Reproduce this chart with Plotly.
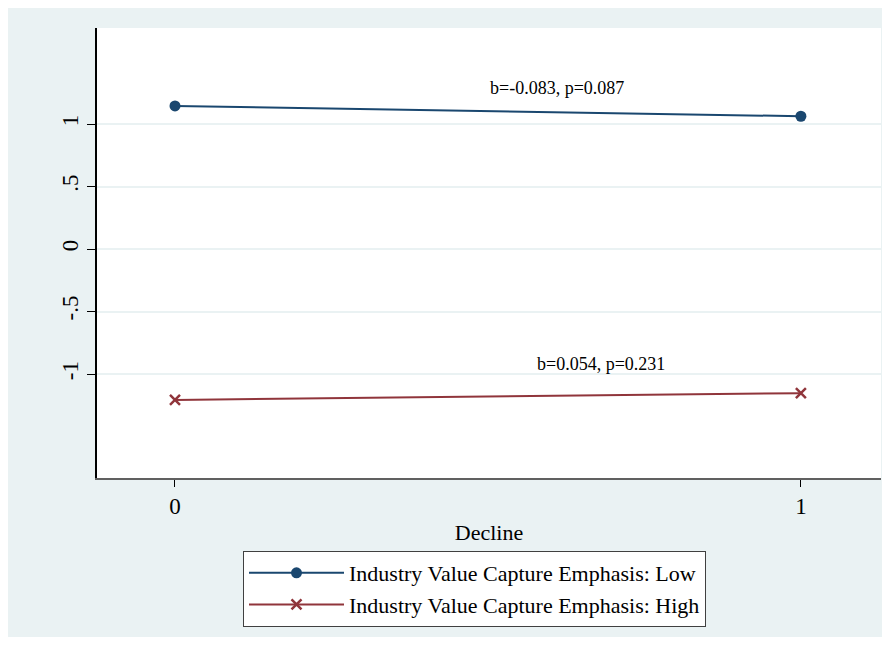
import plotly.graph_objects as go

x_vals = [0, 1]
low_vals = [1.145, 1.062]
high_vals = [-1.207, -1.153]
series_names = ["Industry Value Capture Emphasis: Low", "Industry Value Capture Emphasis: High"]
annot_texts = ["b=-0.083, p=0.087", "b=0.054, p=0.231"]
annot_x = [0.61, 0.68]
annot_y = [1.29, -0.92]
y_ticks = [-1, -0.5, 0, 0.5, 1]
y_ticklabels = ["-1", "-.5", "0", ".5", "1"]
x_ticks = [0, 1]

BG = "#EAF2F3"
NAVY = "#1A476F"
MAROON = "#90353B"
FONT = "Liberation Serif"

# page is offset by the 8px body margin
OFF = 8
W, H = 882, 643
L, T = 97 - OFF, 28 - OFF
RIGHT, BOTTOM = 881 - OFF, 478 - OFF
R, B = W - RIGHT, H - BOTTOM
pw, ph = RIGHT - L, BOTTOM - T

def px_x(p):
    return (p - OFF - L) / pw

def px_y(p):
    return (BOTTOM - (p - OFF)) / ph

fig = go.Figure()
fig.add_trace(go.Scatter(x=x_vals, y=low_vals, mode="lines+markers", name=series_names[0],
                         line=dict(color=NAVY, width=2),
                         marker=dict(symbol="circle", size=11, color=NAVY)))
fig.add_trace(go.Scatter(x=x_vals, y=high_vals, mode="lines+markers", name=series_names[1],
                         line=dict(color=MAROON, width=2),
                         marker=dict(symbol="x-thin", size=10, color=MAROON,
                                     line=dict(color=MAROON, width=2.5))))

for t, ax_, ay_ in zip(annot_texts, annot_x, annot_y):
    fig.add_annotation(x=ax_, y=ay_, text=t, showarrow=False, xref="x", yref="y",
                       font=dict(family=FONT, size=18, color="black"))

fig.update_layout(
    width=W, height=H,
    margin=dict(l=L, r=R, t=T, b=B),
    paper_bgcolor="white", plot_bgcolor="white",
    font=dict(family=FONT, color="black"),
    showlegend=True,
    legend=dict(x=px_x(243), y=px_y(551), xanchor="left", yanchor="top",
                bgcolor="white", bordercolor="#404040", borderwidth=1,
                font=dict(family=FONT, size=22, color="black"),
                itemwidth=95, tracegroupgap=0),
    shapes=[
        dict(type="rect", xref="paper", yref="paper", x0=px_x(8), x1=px_x(890),
             y0=px_y(637), y1=px_y(4), fillcolor=BG, line=dict(width=0), layer="below"),
        dict(type="rect", xref="paper", yref="paper", x0=0, x1=1, y0=0, y1=1,
             fillcolor="white", line=dict(width=0), layer="below"),
    ],
    xaxis=dict(range=[-0.1246, 1.128], tickvals=x_ticks, ticktext=[str(v) for v in x_ticks],
               showgrid=False, zeroline=False, showline=True, linecolor="#606060", linewidth=1.5,
               ticks="outside", ticklen=7, tickcolor="black", tickwidth=1,
               tickfont=dict(family=FONT, size=23),
               title=dict(text="Decline", font=dict(family=FONT, size=22), standoff=6)),
    yaxis=dict(range=[-1.832, 1.768], tickvals=y_ticks, ticktext=y_ticklabels,
               showgrid=True, gridcolor=BG, gridwidth=1.5, zeroline=False,
               showline=True, linecolor="black", linewidth=1.5,
               ticks="outside", ticklen=8, tickcolor="black", tickwidth=1,
               tickangle=-90, tickfont=dict(family=FONT, size=23)),
)

fig.write_html("out.html")
